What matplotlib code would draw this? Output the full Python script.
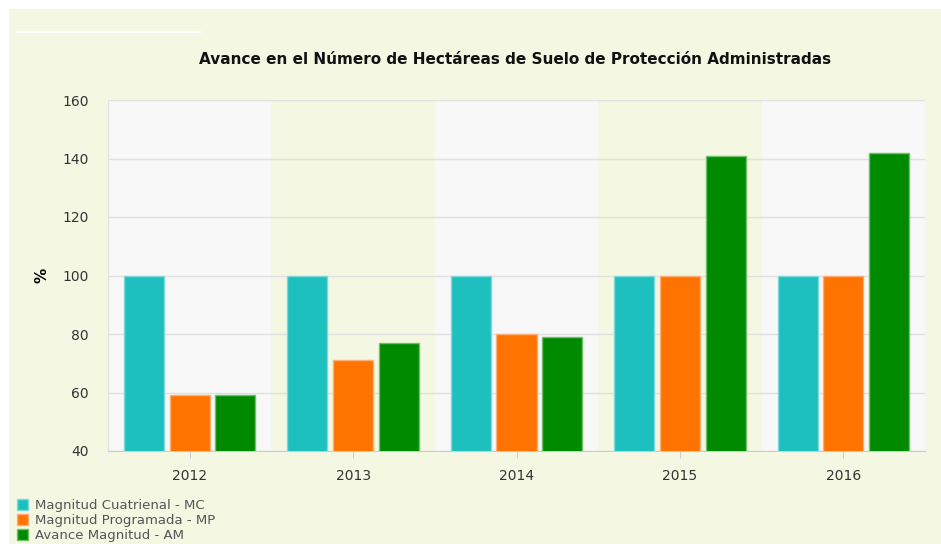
import matplotlib

matplotlib.use("Agg")
import matplotlib.pyplot as plt
import numpy as np

years = ["2012", "2013", "2014", "2015", "2016"]
mc = [100, 100, 100, 100, 100]
mp = [59, 71, 80, 100, 100]
am = [59, 77, 79, 141, 142]
series_names = ["Magnitud Cuatrienal - MC", "Magnitud Programada - MP", "Avance Magnitud - AM"]
yticks = [40, 60, 80, 100, 120, 140, 160]

plt.rcParams.update({"font.family": "DejaVu Sans"})

cream = "#f4f8e3"
band_gray = "#f8f8f8"
colors = ["#1dbfbf", "#ff7300", "#008a00"]
edges = ["#7fd9d9", "#ffae73", "#6cbf6c"]

fig = plt.figure(figsize=(9.41, 5.44), dpi=100, facecolor="white")
# cream panel behind everything
fig.patches.append(plt.Rectangle((9 / 941, 0), 1, 1 - 9 / 544, transform=fig.transFigure,
                                 facecolor=cream, edgecolor="none", zorder=-10))
fig.lines.append(plt.Line2D([17 / 941, 200 / 941], [1 - 32 / 544] * 2, transform=fig.transFigure,
                            color="white", linewidth=1.5, zorder=-5))

ax = fig.add_axes([108 / 941, 1 - 451 / 544, (925 - 108) / 941, (451 - 100) / 544])
ax.set_facecolor(cream)

x = np.arange(len(years))
for i in x:
    ax.axvspan(i - 0.5, i + 0.5, facecolor=band_gray if i % 2 == 0 else cream,
               edgecolor="none", zorder=0)

width = 0.245
offsets = [-0.28, 0.0, 0.28]
for vals, off, c, e, name in zip([mc, mp, am], offsets, colors, edges, series_names):
    ax.bar(x + off, vals, width=width, color=c, edgecolor=e, linewidth=1, label=name, zorder=3)

ax.set_xlim(-0.5, len(years) - 0.5)
ax.set_ylim(40, 160)
ax.set_yticks(yticks)
ax.set_xticks(x)
ax.set_xticklabels(years)
ax.grid(axis="y", color="#e0e0e0", linewidth=1, zorder=1)
ax.set_axisbelow(True)
for s in ("top", "right"):
    ax.spines[s].set_visible(False)
ax.spines["left"].set_color("#e0e0e0")
ax.spines["bottom"].set_color("#cccccc")
ax.tick_params(axis="y", length=0, pad=14, labelsize=10, labelcolor="#333333")
ax.tick_params(axis="x", length=5, color="#cccccc", pad=8, labelsize=10, labelcolor="#333333")
ax.set_ylabel("%", fontsize=11, fontweight="bold", labelpad=9)

fig.text(515 / 941, 1 - 59 / 544, "Avance en el Número de Hectáreas de Suelo de Protección Administradas",
         ha="center", va="center", fontsize=11, fontweight="bold", color="#111111")

handles, labels = ax.get_legend_handles_labels()
fig.legend(handles, labels, loc="upper left", bbox_to_anchor=(10 / 941, 1 - 492 / 544),
           frameon=False, fontsize=9.5, handlelength=0.9, handleheight=0.9, handletextpad=0.5,
           labelspacing=0.15, borderpad=0, labelcolor="#555555")

fig.savefig("out.png", dpi=100, facecolor=fig.get_facecolor())
